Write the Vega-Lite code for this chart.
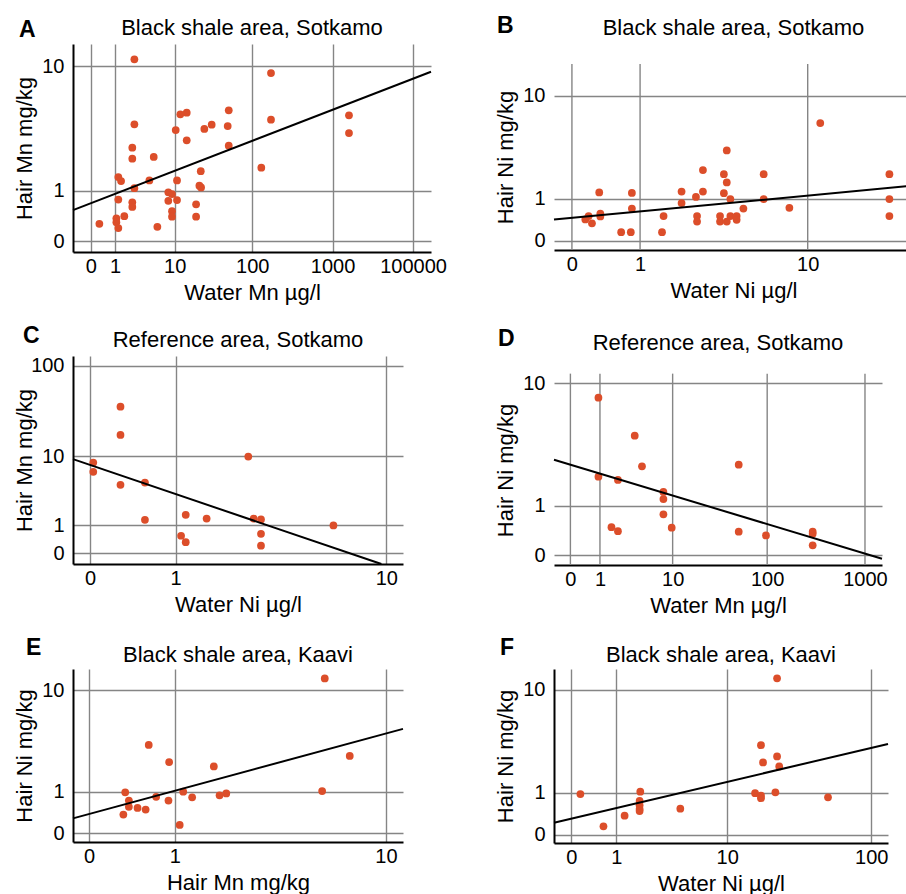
{
  "$schema": "https://vega.github.io/schema/vega-lite/v6.json",
  "padding": {"left": 12, "top": 15, "right": 0, "bottom": 0},
  "columns": 2,
  "spacing": {"row": 21, "column": 46},
  "config": {
    "font": "Liberation Sans",
    "view": {"stroke": null},
    "axis": {"grid": true, "gridColor": "#858585", "gridWidth": 1.4, "domainColor": "#000000", "domainWidth": 2, "ticks": false, "tickSize": 0, "labelFontSize": 20, "labelColor": "#000000", "titleFontSize": 22, "titleFontWeight": "normal", "titleColor": "#000000", "labelFont": "Liberation Sans", "titleFont": "Liberation Sans", "labelOverlap": false, "labelFlush": false, "labelBound": false, "format": "d"},
    "axisX": {"labelPadding": 4, "titlePadding": 6},
    "axisY": {"labelPadding": 9, "titleX": -37},
    "title": {"fontSize": 22, "fontWeight": "normal", "font": "Liberation Sans", "color": "#000000"},
    "circle": {"color": "#dc4e2a", "opacity": 1, "size": 60},
    "line": {"color": "#000000", "strokeWidth": 2}
  },
  "concat": [
    {
      "title": {"text": "A", "anchor": "start", "frame": "bounds", "fontWeight": "bold", "fontSize": 23, "offset": -25, "dx": 6},
      "vconcat": [{
        "title": {"text": "Black shale area, Sotkamo", "offset": 4},
        "width": 358, "height": 208,
        "layer": [
          {"data": {"values": [{"x":2.48,"y":11.06},{"x":171.6,"y":8.99},{"x":50.6,"y":5.0},{"x":171.6,"y":4.28},{"x":1602,"y":4.61},{"x":1602,"y":3.40},{"x":2.48,"y":3.96},{"x":11.94,"y":4.68},{"x":14.53,"y":4.81},{"x":10.34,"y":3.58},{"x":24.7,"y":3.65},{"x":30.7,"y":3.93},{"x":49.1,"y":3.84},{"x":14.53,"y":2.98},{"x":50.6,"y":2.70},{"x":2.28,"y":2.60},{"x":2.28,"y":2.10},{"x":5.05,"y":2.17},{"x":129.9,"y":1.74},{"x":22.2,"y":1.61},{"x":1.20,"y":1.41},{"x":1.38,"y":1.28},{"x":4.34,"y":1.30},{"x":10.77,"y":1.30},{"x":21.3,"y":1.14},{"x":22.4,"y":1.09},{"x":2.48,"y":1.07},{"x":8.18,"y":0.955},{"x":9.2,"y":0.91},{"x":1.20,"y":0.77},{"x":8.18,"y":0.74},{"x":10.77,"y":0.76},{"x":2.28,"y":0.705},{"x":2.28,"y":0.60},{"x":19.3,"y":0.66},{"x":9.2,"y":0.51},{"x":9.2,"y":0.40},{"x":19.3,"y":0.40},{"x":1.61,"y":0.41},{"x":1.08,"y":0.37},{"x":1.08,"y":0.30},{"x":1.20,"y":0.20},{"x":0.28,"y":0.27},{"x":5.71,"y":0.22}]},
           "mark": "circle",
           "encoding": {
             "x": {"field": "x", "type": "quantitative", "scale": {"type": "symlog", "constant": 1, "domain": [-0.66, 16700], "nice": false, "zero": false}, "axis": {"title": "Water Mn µg/l", "values": [0, 1, 10, 100, 1000, 10000], "labelExpr": "datum.value == 10000 ? '100000' : datum.label"}},
             "y": {"field": "y", "type": "quantitative", "scale": {"type": "symlog", "constant": 1, "domain": [-0.157, 13.87], "nice": false, "zero": false}, "axis": {"title": "Hair Mn mg/kg", "values": [0, 1, 10]}}
           }},
          {"data": {"values": [{"x": -0.66, "y": 0.534}, {"x": 16700, "y": 9.18}]},
           "mark": "line",
           "encoding": {"x": {"field": "x", "type": "quantitative"}, "y": {"field": "y", "type": "quantitative"}}}
        ]
      }]
    },
    {
      "title": {"text": "B", "anchor": "start", "frame": "bounds", "fontWeight": "bold", "fontSize": 23, "offset": -21, "dx": 3},
      "vconcat": [{
        "title": {"text": "Black shale area, Sotkamo", "offset": 4},
        "width": 359, "height": 206,
        "layer": [
          {"data": {"values": [{"x": 0}, {"x": 1}, {"x": 10}]},
           "mark": {"type": "rule", "color": "#858585", "strokeWidth": 1.4},
           "encoding": {"x": {"field": "x", "type": "quantitative"}, "y": {"datum": 17.6}, "y2": {"datum": -0.169}}},
          {"mark": {"type": "rule", "color": "#000000", "strokeWidth": 2},
           "encoding": {"x": {"datum": -0.2}, "y": {"datum": 17.6}, "y2": {"datum": -0.169}}},
          {"data": {"values": [{"x":11.5,"y":6.0},{"x":3.83,"y":3.45},{"x":2.79,"y":2.21},{"x":3.69,"y":2.0},{"x":6.03,"y":2.0},{"x":24.25,"y":2.0},{"x":3.83,"y":1.62},{"x":0.32,"y":1.22},{"x":0.84,"y":1.20},{"x":2.05,"y":1.25},{"x":2.79,"y":1.25},{"x":3.69,"y":1.19},{"x":2.53,"y":1.06},{"x":4.01,"y":0.99},{"x":6.03,"y":0.99},{"x":24.25,"y":0.99},{"x":2.05,"y":0.86},{"x":0.84,"y":0.70},{"x":4.72,"y":0.70},{"x":8.13,"y":0.72},{"x":0.335,"y":0.565},{"x":0.335,"y":0.49},{"x":0.185,"y":0.50},{"x":0.146,"y":0.42},{"x":0.226,"y":0.33},{"x":1.54,"y":0.50},{"x":2.57,"y":0.50},{"x":2.57,"y":0.37},{"x":3.51,"y":0.50},{"x":3.51,"y":0.37},{"x":3.83,"y":0.37},{"x":4.01,"y":0.50},{"x":4.34,"y":0.50},{"x":4.34,"y":0.41},{"x":24.25,"y":0.50},{"x":0.65,"y":0.15},{"x":0.82,"y":0.15},{"x":1.50,"y":0.15}]},
           "mark": "circle",
           "encoding": {
             "x": {"field": "x", "type": "quantitative", "scale": {"type": "symlog", "constant": 1, "domain": [-0.2, 31.1], "nice": false, "zero": false}, "axis": {"title": "Water Ni µg/l", "values": [0, 1, 10], "grid": false}},
             "y": {"field": "y", "type": "quantitative", "scale": {"type": "symlog", "constant": 1, "domain": [-0.169, 24.9], "nice": false, "zero": false}, "axis": {"title": "Hair Ni mg/kg", "values": [0, 1, 10], "domain": false, "titleY": 113}}
           }},
          {"data": {"values": [{"x": -0.2, "y": 0.417}, {"x": 31.1, "y": 1.48}]},
           "mark": "line",
           "encoding": {"x": {"field": "x", "type": "quantitative"}, "y": {"field": "y", "type": "quantitative"}}}
        ]
      }]
    },
    {
      "title": {"text": "C", "anchor": "start", "frame": "bounds", "fontWeight": "bold", "fontSize": 23, "offset": -18.5, "dx": 10},
      "vconcat": [{
        "title": {"text": "Reference area, Sotkamo", "offset": 3.5},
        "width": 330, "height": 208,
        "layer": [
          {"data": {"values": [{"x":0.28,"y":36.1},{"x":0.28,"y":17.5},{"x":2.60,"y":9.86},{"x":0.027,"y":8.37},{"x":0.027,"y":6.46},{"x":0.28,"y":4.42},{"x":0.56,"y":4.73},{"x":0.56,"y":1.29},{"x":1.17,"y":1.59},{"x":1.57,"y":1.36},{"x":2.76,"y":1.36},{"x":2.99,"y":1.31},{"x":6.17,"y":0.99},{"x":1.09,"y":0.545},{"x":1.17,"y":0.32},{"x":2.99,"y":0.62},{"x":2.99,"y":0.21}]},
           "mark": "circle",
           "encoding": {
             "x": {"field": "x", "type": "quantitative", "scale": {"type": "symlog", "constant": 1, "domain": [-0.1473, 11.59], "nice": false, "zero": false}, "axis": {"title": "Water Ni µg/l", "values": [0, 1, 10]}},
             "y": {"field": "y", "type": "quantitative", "scale": {"type": "symlog", "constant": 1, "domain": [-0.2977, 128.2], "nice": false, "zero": false}, "axis": {"title": "Hair Mn mg/kg", "values": [0, 1, 10, 100]}}
           }},
          {"data": {"values": [{"x": -0.1473, "y": 9.19}, {"x": 9.57, "y": -0.2977}]},
           "mark": "line",
           "encoding": {"x": {"field": "x", "type": "quantitative"}, "y": {"field": "y", "type": "quantitative"}}}
        ]
      }]
    },
    {
      "title": {"text": "D", "anchor": "start", "frame": "bounds", "fontWeight": "bold", "fontSize": 23, "offset": -19, "dx": 4},
      "vconcat": [{
        "title": {"text": "Reference area, Sotkamo", "offset": 1},
        "width": 328, "height": 209,
        "layer": [
          {"data": {"values": [{"x": 0}, {"x": 1}, {"x": 10}, {"x": 100}, {"x": 1000}]},
           "mark": {"type": "rule", "color": "#858585", "strokeWidth": 1.4},
           "encoding": {"x": {"field": "x", "type": "quantitative"}, "y": {"datum": 11.59}, "y2": {"datum": -0.1449}}},
          {"mark": {"type": "rule", "color": "#000000", "strokeWidth": 2},
           "encoding": {"x": {"datum": -0.469}, "y": {"datum": 11.59}, "y2": {"datum": -0.1449}}},
          {"data": {"values": [{"x":0.93,"y":8.0},{"x":3.52,"y":4.30},{"x":4.36,"y":2.46},{"x":50.8,"y":2.54},{"x":0.93,"y":1.99},{"x":2.05,"y":1.86},{"x":7.86,"y":1.42},{"x":7.86,"y":1.19},{"x":7.86,"y":0.77},{"x":1.62,"y":0.48},{"x":2.05,"y":0.40},{"x":9.76,"y":0.47},{"x":50.8,"y":0.39},{"x":97.2,"y":0.32},{"x":292.6,"y":0.39},{"x":292.6,"y":0.35},{"x":292.6,"y":0.15}]},
           "mark": "circle",
           "encoding": {
             "x": {"field": "x", "type": "quantitative", "scale": {"type": "symlog", "constant": 1, "domain": [-0.469, 1491], "nice": false, "zero": false}, "axis": {"title": "Water Mn µg/l", "values": [0, 1, 10, 100, 1000], "grid": false}},
             "y": {"field": "y", "type": "quantitative", "scale": {"type": "symlog", "constant": 1, "domain": [-0.1449, 15.1], "nice": false, "zero": false}, "axis": {"title": "Hair Ni mg/kg", "values": [0, 1, 10], "domain": false, "titleY": 114}}
           }},
          {"data": {"values": [{"x": -0.469, "y": 2.79}, {"x": 1491, "y": -0.0486}]},
           "mark": "line",
           "encoding": {"x": {"field": "x", "type": "quantitative"}, "y": {"field": "y", "type": "quantitative"}}}
        ]
      }]
    },
    {
      "title": {"text": "E", "anchor": "start", "frame": "bounds", "fontWeight": "bold", "fontSize": 23, "offset": -16, "dx": 13},
      "vconcat": [{
        "title": {"text": "Black shale area, Kaavi", "offset": 2},
        "width": 330, "height": 173,
        "layer": [
          {"data": {"values": [{"x":5.71,"y":12.4},{"x":0.62,"y":3.40},{"x":0.91,"y":2.30},{"x":1.74,"y":2.07},{"x":7.21,"y":2.66},{"x":0.34,"y":0.99},{"x":1.14,"y":1.01},{"x":5.57,"y":1.03},{"x":0.72,"y":0.845},{"x":1.30,"y":0.83},{"x":1.87,"y":0.89},{"x":2.03,"y":0.95},{"x":0.38,"y":0.73},{"x":0.90,"y":0.73},{"x":0.38,"y":0.56},{"x":0.48,"y":0.53},{"x":0.58,"y":0.49},{"x":0.32,"y":0.37},{"x":1.08,"y":0.15}]},
           "mark": "circle",
           "encoding": {
             "x": {"field": "x", "type": "quantitative", "scale": {"type": "symlog", "constant": 1, "domain": [-0.1377, 11.62], "nice": false, "zero": false}, "axis": {"title": "Hair Mn mg/kg", "values": [0, 1, 10]}},
             "y": {"field": "y", "type": "quantitative", "scale": {"type": "symlog", "constant": 1, "domain": [-0.1567, 14.71], "nice": false, "zero": false}, "axis": {"title": "Hair Ni mg/kg", "values": [0, 1, 10]}}
           }},
          {"data": {"values": [{"x": -0.1377, "y": 0.285}, {"x": 11.62, "y": 4.76}]},
           "mark": "line",
           "encoding": {"x": {"field": "x", "type": "quantitative"}, "y": {"field": "y", "type": "quantitative"}}}
        ]
      }]
    },
    {
      "title": {"text": "F", "anchor": "start", "frame": "bounds", "fontWeight": "bold", "fontSize": 23, "offset": -16, "dx": 6},
      "vconcat": [{
        "title": {"text": "Black shale area, Kaavi", "offset": 2},
        "width": 334, "height": 174,
        "layer": [
          {"data": {"values": [{"x":22.7,"y":12.35},{"x":17.5,"y":3.41},{"x":22.7,"y":2.66},{"x":18.1,"y":2.31},{"x":23.5,"y":2.10},{"x":0.15,"y":0.96},{"x":1.89,"y":1.04},{"x":15.9,"y":0.99},{"x":17.5,"y":0.91},{"x":17.5,"y":0.83},{"x":22.1,"y":1.02},{"x":50.9,"y":0.86},{"x":1.86,"y":0.75},{"x":1.86,"y":0.63},{"x":1.86,"y":0.53},{"x":1.86,"y":0.48},{"x":4.35,"y":0.54},{"x":1.27,"y":0.37},{"x":0.64,"y":0.15}]},
           "mark": "circle",
           "encoding": {
             "x": {"field": "x", "type": "quantitative", "scale": {"type": "symlog", "constant": 1, "domain": [-0.305, 129.6], "nice": false, "zero": false}, "axis": {"title": "Water Ni µg/l", "values": [0, 1, 10, 100]}},
             "y": {"field": "y", "type": "quantitative", "scale": {"type": "symlog", "constant": 1, "domain": [-0.147, 14.57], "nice": false, "zero": false}, "axis": {"title": "Hair Ni mg/kg", "values": [0, 1, 10]}}
           }},
          {"data": {"values": [{"x": -0.305, "y": 0.22}, {"x": 129.6, "y": 3.50}]},
           "mark": "line",
           "encoding": {"x": {"field": "x", "type": "quantitative"}, "y": {"field": "y", "type": "quantitative"}}}
        ]
      }]
    }
  ]
}
